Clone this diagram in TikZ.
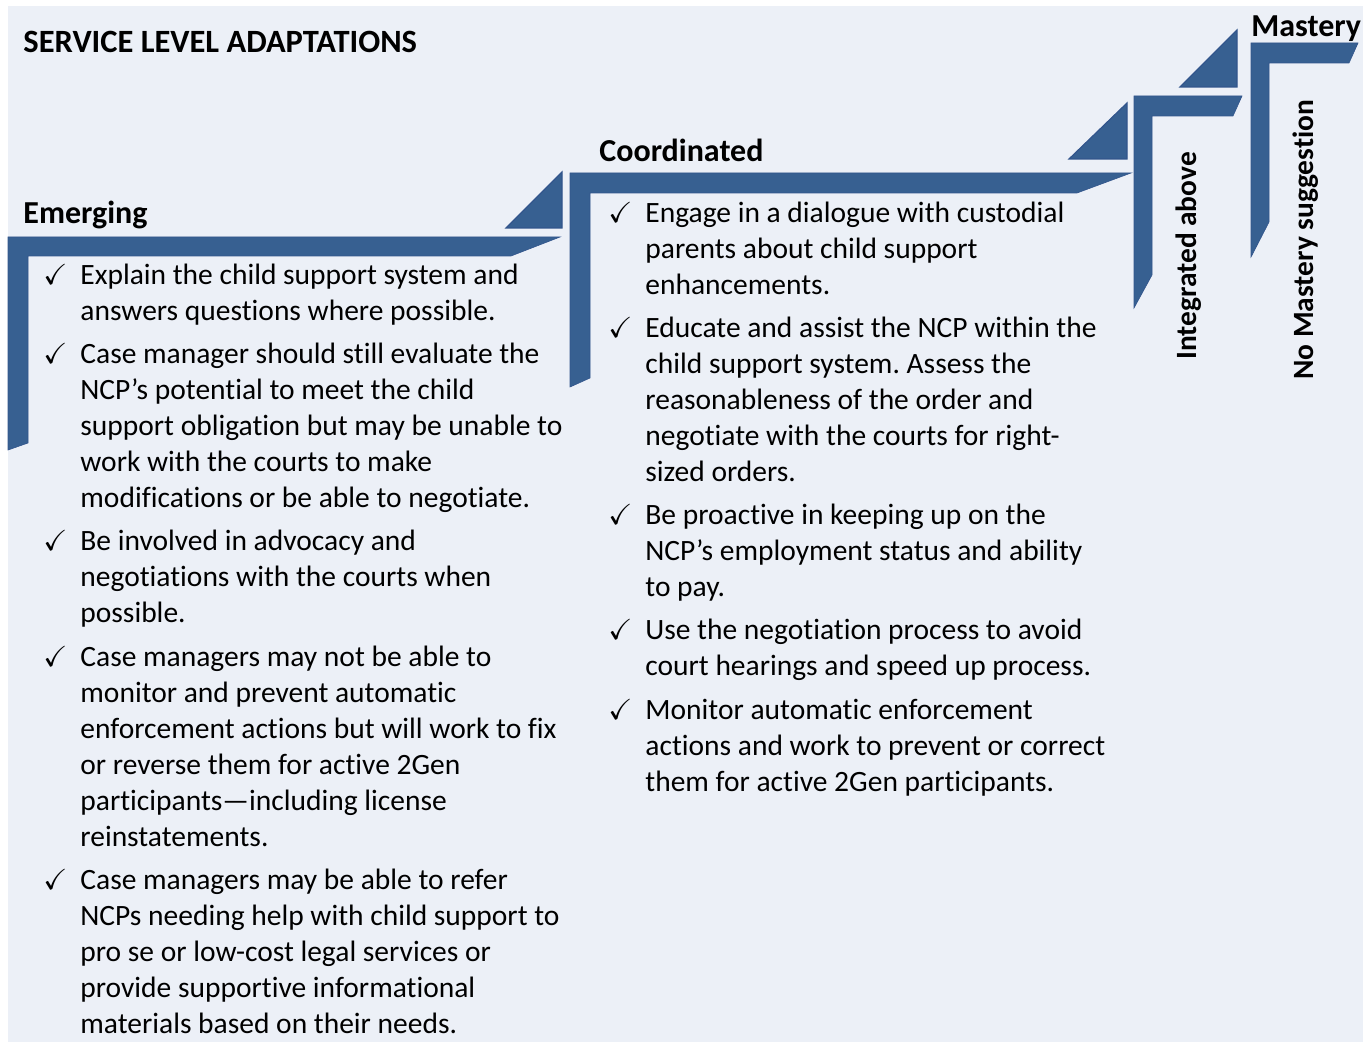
\documentclass[tikz,border=0pt]{standalone}
\usepackage{amssymb}
\usepackage{fontspec}
\setmainfont{Carlito}[Ligatures=NoCommon]
\usepackage{tikz}
\definecolor{StepBlue}{RGB}{55,96,145}
\definecolor{StepEdge}{RGB}{50,85,140}
\definecolor{PageTint}{RGB}{236,240,247}
\frenchspacing

\begin{document}
\begin{tikzpicture}[
  x=0.5pt, y=-0.5pt,
  bar/.style={fill=StepBlue, draw=StepEdge, line width=0.3pt, line join=miter},
  tri/.style={fill=StepBlue, draw=StepEdge, line width=0.6pt},
  head/.style={font=\bfseries\fontsize{16}{19}\selectfont, inner sep=0pt},
  side/.style={font=\bfseries\fontsize{14.7}{18}\selectfont, inner sep=0pt,
               anchor=base west, rotate=90},
  item/.style={font=\fontsize{14.75}{18}\selectfont, align=left, inner sep=0pt,
               anchor=north west, execute at begin node=\strut},
  chk/.style={font=\fontsize{14.5}{18}\selectfont, inner sep=0pt, anchor=north west,
              execute at begin node=\strut}
]
  \useasboundingbox (0,0) rectangle (1363,1042);
  \fill[PageTint] (8,6) rectangle (1363,1042);

  % Steps (bracket plus wedge)
  \draw[bar] (8,237) -- (560,237) -- (511,256) -- (28,256) -- (28,443) -- (8,450) -- cycle;
  \draw[tri] (562,172) -- (562,228) -- (506,228) -- cycle;
  \draw[bar] (570,173) -- (1131,173) -- (1077,193) -- (590,193) -- (590,378) -- (570,387) -- cycle;
  \draw[tri] (1127,103) -- (1127,159) -- (1069,159) -- cycle;
  \draw[bar] (1134,96) -- (1242,96) -- (1233,116) -- (1152,116) -- (1152,275) -- (1134,308) -- cycle;
  \draw[tri] (1237,30) -- (1237,87) -- (1180,87) -- cycle;
  \draw[bar] (1251,43) -- (1358,43) -- (1349,63) -- (1269,63) -- (1269,222) -- (1251,257) -- cycle;

  % Headings
  \node[head, anchor=base west, font=\bfseries\fontsize{16.25}{19}\selectfont] (title) at (23,53) {SERVICE LEVEL ADAPTATIONS};
  \node[head, anchor=base west] (emerging) at (23,224) {Emerging};
  \node[head, anchor=base west] (coordinated) at (599,162) {Coordinated};
  \node[head, anchor=base west] (mastery) at (1251,37) {Mastery};
  \node[side] (integrated) at (1196,360) {Integrated above};
  \node[side] (nomastery) at (1313,380) {No Mastery suggestion};

  % Emerging list
  \foreach \y [count=\i] in {259,338,525,641,864}{
    \node[chk] (echk\i) at (43,\y) {$\checkmark$};
  }
  \node[item] (e1) at (80,264) {Explain the child support system and\\answers questions where possible.};
  \node[item] (e2) at (80,343) {Case manager should still evaluate the\\NCP’s potential to meet the child\\support obligation but may be unable to\\work with the courts to make\\modifications or be able to negotiate.};
  \node[item] (e3) at (80,530) {Be involved in advocacy and\\negotiations with the courts when\\possible.};
  \node[item] (e4) at (80,646) {Case managers may not be able to\\monitor and prevent automatic\\enforcement actions but will work to fix\\or reverse them for active 2Gen\\participants—including license\\reinstatements.};
  \node[item] (e5) at (80,869) {Case managers may be able to refer\\NCPs needing help with child support to\\pro se or low-cost legal services or\\provide supportive informational\\materials based on their needs.};

  % Coordinated list
  \foreach \y [count=\i] in {197,312,499,614,694}{
    \node[chk] (cchk\i) at (608,\y) {$\checkmark$};
  }
  \node[item] (c1) at (645,202) {Engage in a dialogue with custodial\\parents about child support\\enhancements.};
  \node[item] (c2) at (645,317) {Educate and assist the NCP within the\\child support system. Assess the\\reasonableness of the order and\\negotiate with the courts for right-\\sized orders.};
  \node[item] (c3) at (645,504) {Be proactive in keeping up on the\\NCP’s employment status and ability\\to pay.};
  \node[item] (c4) at (645,619) {Use the negotiation process to avoid\\court hearings and speed up process.};
  \node[item] (c5) at (645,699) {Monitor automatic enforcement\\actions and work to prevent or correct\\them for active 2Gen participants.};
\end{tikzpicture}
\end{document}
